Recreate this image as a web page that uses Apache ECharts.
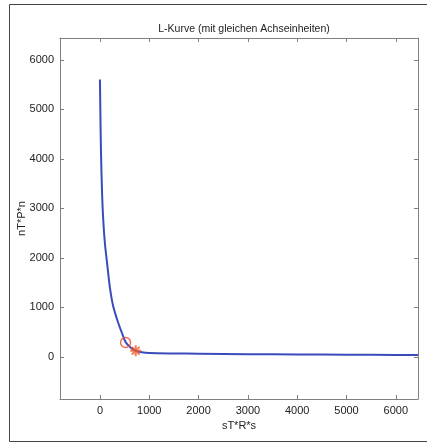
<!DOCTYPE html>
<html>
<head>
<meta charset="utf-8">
<script src="https://cdn.jsdelivr.net/npm/echarts@6/dist/echarts.min.js"></script>
<style>
  html, body { margin: 0; padding: 0; background: #fff; }
  #chart { width: 427px; height: 444px; }
</style>
</head>
<body>
<div id="chart"></div>
<script>
// L-Kurve: x = sT*R*s, y = nT*P*n
const curveX = [0, 8, 20, 40, 65, 100, 150, 205, 270, 370, 440, 520, 620, 725, 850, 1000, 1500, 2000, 3000, 4000, 5000, 6000, 6450];
const curveY = [5600, 5000, 4200, 3400, 2800, 2300, 1850, 1380, 1020, 690, 500, 300, 190, 125, 95, 80, 70, 65, 55, 50, 45, 40, 38];
const circlePt = [520, 290];
const starPt = [725, 125];

const xMin = -810, xMax = 6450;
const yMin = -850, yMax = 6440;

const chart = echarts.init(document.getElementById("chart"));

const font = "Liberation Sans, Arial, sans-serif";
const boxColor = "#808080";

function baseAxis(min, max, show) {
  return {
    type: "value",
    min, max,
    minInterval: 1000,
    maxInterval: 1000,
    axisLine: { show: true, onZero: false, lineStyle: { color: boxColor, width: 1 } },
    axisTick: { show: true, inside: true, length: 4, lineStyle: { color: boxColor } },
    axisLabel: {
      show,
      color: "#222",
      fontFamily: font,
      fontSize: 11,
      margin: 6,
      formatter: (v) => (v % 1000 === 0 ? String(v) : "")
    },
    splitLine: { show: false }
  };
}

chart.setOption({
  animation: false,
  backgroundColor: "#fff",
  title: {
    text: "L-Kurve (mit gleichen Achseinheiten)",
    left: 239, top: 19, textAlign: "center",
    textStyle: { fontFamily: font, fontSize: 10.5, fontWeight: "normal", color: "#222" }
  },
  graphic: [{
    type: "rect",
    shape: { x: 9.5, y: 4.5, width: 430, height: 437 },
    style: { fill: "none", stroke: "#444", lineWidth: 1 },
    silent: true, z: -10
  }],
  grid: { left: 60, right: 9, top: 38, bottom: 45 },
  xAxis: [
    Object.assign(baseAxis(xMin, xMax, true), {
      position: "bottom",
      name: "sT*R*s", nameLocation: "middle", nameGap: 16,
      nameTextStyle: { fontFamily: font, fontSize: 11, color: "#222" }
    }),
    Object.assign(baseAxis(xMin, xMax, false), { position: "top" })
  ],
  yAxis: [
    Object.assign(baseAxis(yMin, yMax, true), {
      position: "left",
      name: "nT*P*n", nameLocation: "middle", nameGap: 33,
      nameMoveOverlap: false,
      nameTextStyle: { fontFamily: font, fontSize: 11, color: "#222" }
    }),
    Object.assign(baseAxis(yMin, yMax, false), { position: "right" })
  ],
  series: [
    {
      type: "line",
      xAxisIndex: 0, yAxisIndex: 0,
      data: curveX.map((x, i) => [x, curveY[i]]),
      smooth: 0.3,
      showSymbol: false,
      lineStyle: { color: "#3a4cbc", width: 2 },
      z: 2
    },
    {
      type: "scatter",
      data: [circlePt],
      symbol: "circle",
      symbolSize: 10,
      itemStyle: { color: "rgba(0,0,0,0)", borderColor: "#f04a32", borderWidth: 1.5 },
      z: 3
    },
    {
      type: "scatter",
      data: [starPt],
      symbol: "path://M5,0 L5,10 M0,5 L10,5 M1.5,1.5 L8.5,8.5 M1.5,8.5 L8.5,1.5",
      symbolSize: 11,
      itemStyle: { color: "rgba(0,0,0,0)", borderColor: "#f25a26", borderWidth: 2 },
      z: 3
    }
  ]
});
</script>
</body>
</html>
